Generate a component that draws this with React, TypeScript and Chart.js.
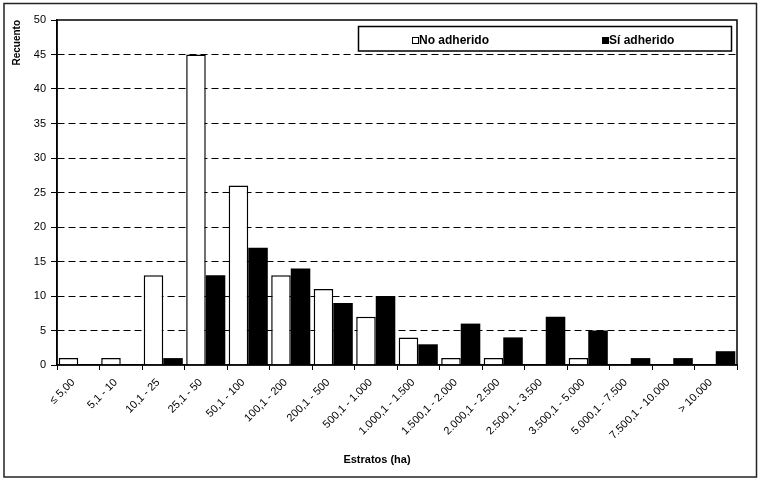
import React, { useEffect, useRef } from "react";
import { Chart, registerables } from "chart.js";
Chart.register(...registerables);

const categories = [
  "≤ 5,00", "5,1 - 10", "10,1 - 25", "25,1 - 50", "50,1 - 100", "100,1 - 200",
  "200,1 - 500", "500,1 - 1.000", "1.000,1 - 1.500", "1.500,1 - 2.000",
  "2.000,1 - 2.500", "2.500,1 - 3.500", "3.500,1 - 5.000", "5.000,1 - 7.500",
  "7.500,1 - 10.000", "> 10.000",
];
const noAdherido = [1, 1, 13, 45, 26, 13, 11, 7, 4, 1, 1, 0, 1, 0, 0, 0];
const siAdherido = [0, 0, 1, 13, 17, 14, 9, 10, 3, 6, 4, 7, 5, 1, 1, 2];
const seriesLabels = ["No adherido", "Sí adherido"];
const yMin = 0;
const yMax = 50;
const yStep = 5;
const xTitle = "Estratos (ha)";
const yTitle = "Recuento";

const FONT = 'Arial, "Liberation Sans", sans-serif';

const decorPlugin = {
  id: "decor",
  beforeDraw(chart: any) {
    const ctx = chart.ctx;
    ctx.save();
    ctx.fillStyle = "#fff";
    ctx.fillRect(0, 0, chart.width, chart.height);
    ctx.restore();
  },
  afterDraw(chart: any) {
    const ctx = chart.ctx;
    const a = chart.chartArea;
    ctx.save();
    // plot frame
    ctx.strokeStyle = "#000";
    ctx.lineWidth = 1.5;
    ctx.strokeRect(a.left, a.top, a.right - a.left, a.bottom - a.top);
    // outer frame
    ctx.strokeStyle = "#222";
    ctx.lineWidth = 1.5;
    ctx.strokeRect(4, 3.5, 752.5, 473.5);
    // legend box
    ctx.fillStyle = "#fff";
    ctx.fillRect(358, 26, 374, 25);
    ctx.strokeStyle = "#000";
    ctx.lineWidth = 1.5;
    ctx.strokeRect(358.5, 26.5, 373, 24.5);
    const xs = [412, 602];
    chart.data.datasets.forEach((ds: any, i: number) => {
      const x = xs[i];
      ctx.fillStyle = ds.backgroundColor;
      ctx.fillRect(x, 37, 6, 6);
      ctx.lineWidth = 1;
      ctx.strokeStyle = "#000";
      ctx.strokeRect(x + 0.5, 37.5, 6, 6);
      ctx.fillStyle = "#000";
      ctx.font = "bold 12px " + FONT;
      ctx.textAlign = "left";
      ctx.textBaseline = "alphabetic";
      ctx.fillText(ds.label, x + 7, 44);
    });
    // x title
    ctx.fillStyle = "#000";
    ctx.font = "bold 11px " + FONT;
    ctx.textAlign = "center";
    ctx.textBaseline = "alphabetic";
    ctx.fillText(xTitle, 377, 463);
    ctx.restore();
  },
};

export default function App() {
  const ref = useRef<HTMLCanvasElement>(null);
  useEffect(() => {
    if (!ref.current) return;
    const chart = new Chart(ref.current, {
      type: "bar",
      data: {
        labels: categories,
        datasets: [
          {
            label: seriesLabels[0],
            data: noAdherido,
            backgroundColor: "#fff",
            borderColor: "#000",
            borderWidth: 1.5,
            categoryPercentage: 0.92,
            barPercentage: 1,
          },
          {
            label: seriesLabels[1],
            data: siAdherido,
            backgroundColor: "#000",
            borderColor: "#000",
            borderWidth: 0,
            categoryPercentage: 0.92,
            barPercentage: 1,
          },
        ],
      },
      options: {
        animation: false,
        responsive: false,
        layout: { padding: { left: 5, top: 20, right: 25, bottom: 0 } },
        plugins: {
          legend: { display: false },
          tooltip: { enabled: false },
        },
        scales: {
          x: {
            grid: {
              display: true,
              drawOnChartArea: false,
              drawTicks: true,
              tickLength: 5,
              tickColor: "#000",
              offset: true,
            },
            border: { display: true, color: "#000", width: 1.5 },
            ticks: {
              autoSkip: false,
              maxRotation: 45,
              minRotation: 45,
              color: "#000",
              font: { family: FONT, size: 11 },
              padding: 6,
              labelOffset: -5,
            },
            afterFit(scale: any) {
              scale.height = 115;
            },
          },
          y: {
            min: yMin,
            max: yMax,
            ticks: {
              stepSize: yStep,
              color: "#000",
              font: { family: FONT, size: 11 },
              padding: 5,
            },
            grid: {
              color: (c: any) =>
                c.tick && (c.tick.value === yMin || c.tick.value === yMax)
                  ? "rgba(0,0,0,0)"
                  : "#000",
              tickColor: "#000",
              tickLength: 6,
              lineWidth: 1,
            },
            border: { display: true, color: "#000", width: 1.5, dash: [7, 4] },
            title: {
              display: true,
              text: yTitle,
              align: "end",
              color: "#000",
              font: { family: FONT, size: 10, weight: "bold" },
              padding: { top: 6, bottom: 4 },
            },
            afterFit(scale: any) {
              scale.width = 52;
            },
          },
        },
      },
      plugins: [decorPlugin],
    } as any);
    return () => chart.destroy();
  }, []);
  return (
    <div style={{ position: "absolute", left: 0, top: 0, width: 762, height: 480 }}>
      <canvas ref={ref} width={762} height={480} style={{ display: "block" }} />
    </div>
  );
}
